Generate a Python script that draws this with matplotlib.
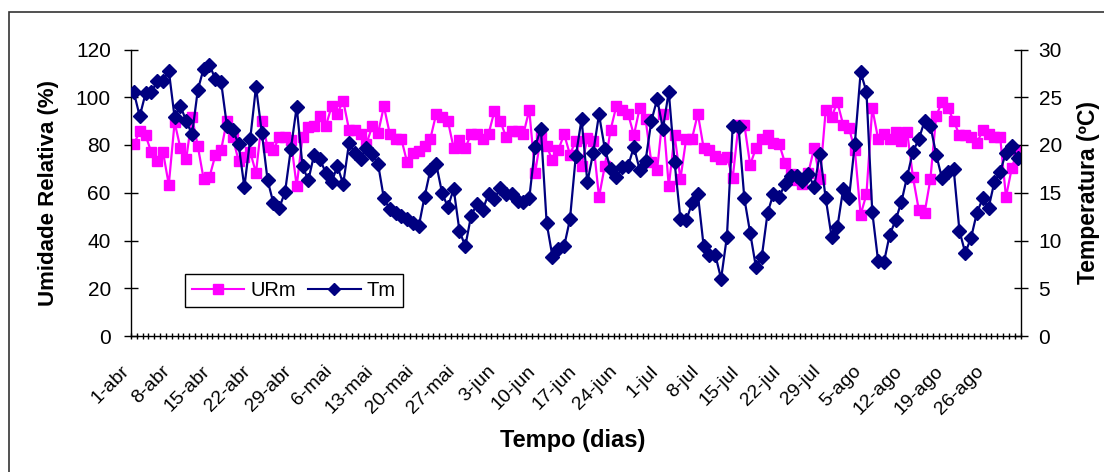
import matplotlib
matplotlib.use("Agg")
import matplotlib.pyplot as plt
from matplotlib.patches import Rectangle
from matplotlib.lines import Line2D
import matplotlib.transforms as mtransforms
import numpy as np

plt.rcParams['font.family'] = ['Liberation Sans', 'DejaVu Sans']

# Daily means, 1 April to 31 August
ur_m = [80.4, 85.7, 84.1, 76.9, 73.1, 77.1, 63.4, 89.5, 78.7, 74.3,
        91.7, 79.4, 65.7, 66.6, 75.7, 78.0, 90.2, 83.2, 73.4, 75.0,
        77.1, 68.3, 90.2, 79.1, 77.9, 83.4, 83.2, 82.0, 62.7, 83.4,
        87.6, 87.8, 92.3, 87.8, 96.2, 93.1, 98.6, 86.4, 86.4, 84.6,
        80.6, 87.8, 85.0, 96.2, 84.8, 82.5, 82.5, 72.7, 76.7, 77.3,
        79.4, 82.7, 93.1, 91.7, 90.2, 78.7, 81.9, 78.7, 84.6, 84.6,
        82.7, 84.6, 94.1, 90.2, 83.4, 85.7, 85.7, 84.6, 94.7, 68.2,
        83.4, 79.4, 73.6, 77.8, 84.6, 76.0, 81.8, 71.1, 82.9, 81.5,
        58.2, 71.3, 86.4, 96.5, 94.8, 93.1, 84.1, 95.5, 91.0, 72.7,
        69.7, 93.1, 62.7, 84.1, 65.7, 82.7, 82.7, 93.1, 78.7, 77.8,
        75.2, 74.1, 75.1, 66.3, 88.5, 88.5, 71.7, 78.7, 82.7, 84.3,
        80.8, 80.4, 72.4, 67.8, 65.5, 63.6, 68.3, 78.7, 65.7, 94.8,
        91.7, 97.9, 88.5, 87.1, 78.0, 50.8, 59.3, 95.5, 82.7, 84.6,
        82.7, 85.3, 81.8, 85.5, 66.6, 52.9, 51.5, 65.7, 92.3, 97.9,
        95.5, 90.2, 84.1, 84.1, 83.4, 80.8, 86.2, 84.8, 83.4, 83.4,
        58.2, 70.3, 78.0]

t_m = [25.5, 23.0, 25.4, 25.5, 26.7, 26.7, 27.8, 22.9, 24.1, 22.5,
       21.1, 25.8, 28.0, 28.4, 26.9, 26.6, 22.0, 21.6, 20.1, 15.6,
       20.6, 26.1, 21.3, 16.3, 13.9, 13.4, 15.1, 19.6, 24.0, 17.8,
       16.3, 19.0, 18.5, 17.1, 16.1, 17.8, 15.9, 20.2, 19.2, 18.5,
       19.7, 19.1, 18.0, 14.4, 13.3, 12.9, 12.6, 12.2, 11.8, 11.5,
       14.6, 17.4, 18.0, 15.0, 13.5, 15.4, 11.0, 9.4, 12.6, 13.8,
       13.2, 14.9, 14.3, 15.5, 14.9, 14.9, 14.1, 14.0, 14.4, 19.8,
       21.7, 11.8, 8.3, 9.1, 9.4, 12.2, 18.8, 22.7, 16.1, 19.2,
       23.2, 19.6, 17.5, 16.6, 17.7, 17.8, 19.8, 17.4, 18.3, 22.5,
       24.8, 21.7, 25.6, 18.2, 12.3, 12.1, 13.9, 14.9, 9.4, 8.5,
       8.5, 6.0, 10.4, 22.0, 21.9, 14.4, 10.8, 7.2, 8.3, 12.9,
       14.9, 14.6, 15.9, 16.8, 16.8, 16.2, 17.0, 15.6, 19.1, 14.4,
       10.4, 11.4, 15.4, 14.4, 20.1, 27.6, 25.6, 13.0, 7.9, 7.7,
       10.6, 12.1, 14.0, 16.7, 19.3, 20.6, 22.5, 22.0, 19.0, 16.5,
       17.2, 17.5, 11.0, 8.7, 10.3, 12.9, 14.4, 13.4, 16.1, 17.2,
       19.2, 19.9, 18.6]

date_labels = ['1-abr', '8-abr', '15-abr', '22-abr', '29-abr', '6-mai',
               '13-mai', '20-mai', '27-mai', '3-jun', '10-jun', '17-jun',
               '24-jun', '1-jul', '8-jul', '15-jul', '22-jul', '29-jul',
               '5-ago', '12-ago', '19-ago', '26-ago']
label_step = 7

ur_ticks = [0, 20, 40, 60, 80, 100, 120]
t_ticks = [0, 5, 10, 15, 20, 25, 30]

MAGENTA = '#FF00FF'
NAVY = '#000080'

W, H = 1104, 472
fig = plt.figure(figsize=(W / 100, H / 100), dpi=100)
fig.patch.set_facecolor('white')

# chart area frame
fig.patches.append(Rectangle((9 / W, -0.1), 1.2, 1 - 12 / H + 0.1,
                             transform=fig.transFigure, fill=False,
                             edgecolor='#333333', linewidth=1.2, zorder=0))

left, right, bottom, top = 131, 1020.5, 336, 49.5
ax = fig.add_axes([left / W, 1 - bottom / H, (right - left) / W, (bottom - top) / H])
ax2 = ax.twinx()

n = len(ur_m)
x = np.arange(n)

ax.plot(x, ur_m, color=MAGENTA, lw=1.6, marker='s', markersize=7.5,
        markerfacecolor=MAGENTA, markeredgecolor=MAGENTA, label='URm')
ax2.plot(x, t_m, color=NAVY, lw=1.6, marker='D', markersize=7.5,
         markerfacecolor=NAVY, markeredgecolor=NAVY, label='Tm')

ax.set_xlim(-0.5, n - 0.5)
ax.set_ylim(0, 120)
ax2.set_ylim(0, 30)

for a in (ax, ax2):
    a.spines['top'].set_visible(False)
    a.patch.set_visible(False)
ax.spines['right'].set_visible(False)
ax2.spines['left'].set_visible(False)
ax2.spines['bottom'].set_visible(False)
for sp in ('left', 'bottom'):
    ax.spines[sp].set_linewidth(1.0)
ax2.spines['right'].set_linewidth(1.0)

ax.set_yticks(ur_ticks)
ax.set_yticklabels([str(v) for v in ur_ticks])
ax2.set_yticks(t_ticks)
ax2.set_yticklabels([str(v) for v in t_ticks])
ax.tick_params(axis='y', direction='inout', length=10, width=1.0, pad=9.5,
               labelsize=15)
ax2.tick_params(axis='y', direction='inout', length=10, width=1.0, pad=8,
                labelsize=15)

# one tick at every category boundary
ax.set_xticks(np.arange(n + 1) - 0.5)
ax.set_xticklabels([])
ax.tick_params(axis='x', direction='inout', length=5, width=1.0)

# rotated date labels every 7 days
offset = mtransforms.ScaledTranslation(-5.5 / 72, -23.5 / 72, fig.dpi_scale_trans)
trans = mtransforms.blended_transform_factory(ax.transData, ax.transAxes) + offset
for k, lab in enumerate(date_labels):
    ax.text(k * label_step, 0, lab, transform=trans, rotation=45,
            rotation_mode='anchor', ha='right', va='center', fontsize=14)

ax.set_ylabel('Umidade Relativa (%)', fontsize=16, fontweight='bold')
ax.yaxis.set_label_coords(-0.081, 0.5)
ax2.set_ylabel('Temperatura (ºC)', fontsize=16.5, fontweight='bold')
ax2.yaxis.set_label_coords(1.0635, 0.5)

fig.text((left + right) / 2 / W - 0.003, 1 - 440 / H, 'Tempo (dias)', ha='center',
         va='center', fontsize=17, fontweight='bold')

handles = [Line2D([], [], color=MAGENTA, lw=1.5, marker='s', markersize=7),
           Line2D([], [], color=NAVY, lw=1.5, marker='D', markersize=6)]
leg = ax2.legend(handles, ['URm', 'Tm'], loc='lower left',
                 bbox_to_anchor=(185 / W, 1 - 307 / H, 198 / W, 39 / H),
                 bbox_transform=fig.transFigure, ncol=2, fontsize=14.5,
                 frameon=True, fancybox=False, framealpha=1, edgecolor='black',
                 handlelength=2.6, handletextpad=0.3, columnspacing=0.6,
                 borderpad=0.35, borderaxespad=0)
leg.get_frame().set_linewidth(1.0)

fig.savefig('out.png', dpi=100, facecolor='white')
